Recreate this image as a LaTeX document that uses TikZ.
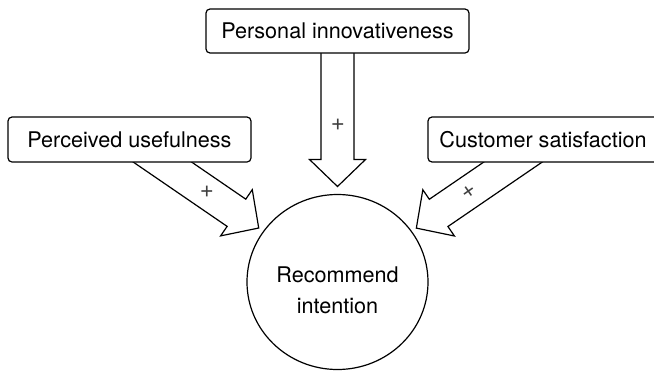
\documentclass[tikz,border=0pt]{standalone}
\usepackage{fontspec}
\setmainfont{TeX Gyre Heros}
\usetikzlibrary{calc,shapes.geometric}
\tikzset{
  factorbox/.style={draw, line width=1.2pt, rounded corners=4pt, fill=white,
    inner sep=0pt, font=\fontsize{21.6}{25}\selectfont},
  target/.style={draw, ellipse, line width=1.2pt, inner sep=0pt,
    minimum width=181pt, minimum height=175pt},
  fatarrow/.style={draw, line width=1.2pt, fill=white, line join=miter},
  signlabel/.style={text=black!75, font=\fontsize{24}{24}\selectfont, inner sep=0pt}
}
\newcommand\fatarrow[3]{% from node #1 toward node #2, tip name #3
  \coordinate (#3) at ($(#2.center)!95.5pt!(#1.center)$);
  \coordinate (#3hb) at ($(#3)!27pt!(#1.center)$);
  \draw[fatarrow]
    ($(#1.center)!16.5pt!90:(#3)$) -- ($(#3hb)!16.5pt!90:(#3)$) --
    ($(#3hb)!28pt!90:(#3)$) -- (#3) -- ($(#3hb)!28pt!-90:(#3)$) --
    ($(#3hb)!16.5pt!-90:(#3)$) -- ($(#1.center)!16.5pt!-90:(#3)$) -- cycle;
}
\begin{document}
\begin{tikzpicture}[x=1pt,y=-1pt]
\useasboundingbox (0,0) rectangle (654,370);
\clip (0,0) rectangle (654,370);
\node[target] (ri) at (337.5,282) {};
\node[align=center, inner sep=0pt, font=\fontsize{21.6}{31}\selectfont] (rit)
  at (337.5,290) {Recommend\\intention};
\coordinate (pic) at (337.5,31);
\coordinate (puc) at (129.5,139.5);
\coordinate (csc) at (546,139.5);
\fatarrow{pic}{ri}{tipT}
\fatarrow{puc}{ri}{tipL}
\fatarrow{csc}{ri}{tipR}
\node[factorbox, minimum width=263pt, minimum height=44pt] (pi) at (pic)
  {Personal innovativeness};
\node[factorbox, minimum width=243pt, minimum height=45pt] (pu) at (puc)
  {Perceived usefulness};
\node[factorbox, minimum width=236pt, minimum height=45pt] (cs) at (csc)
  {\hspace*{-3pt}Customer satisfaction\hspace*{3pt}};
\node[signlabel] (sT) at (338,125) {+};
\node[signlabel] (sL) at (207,192) {+};
\node[signlabel, rotate=35] (sR) at (469,192) {+};
\end{tikzpicture}
\end{document}
